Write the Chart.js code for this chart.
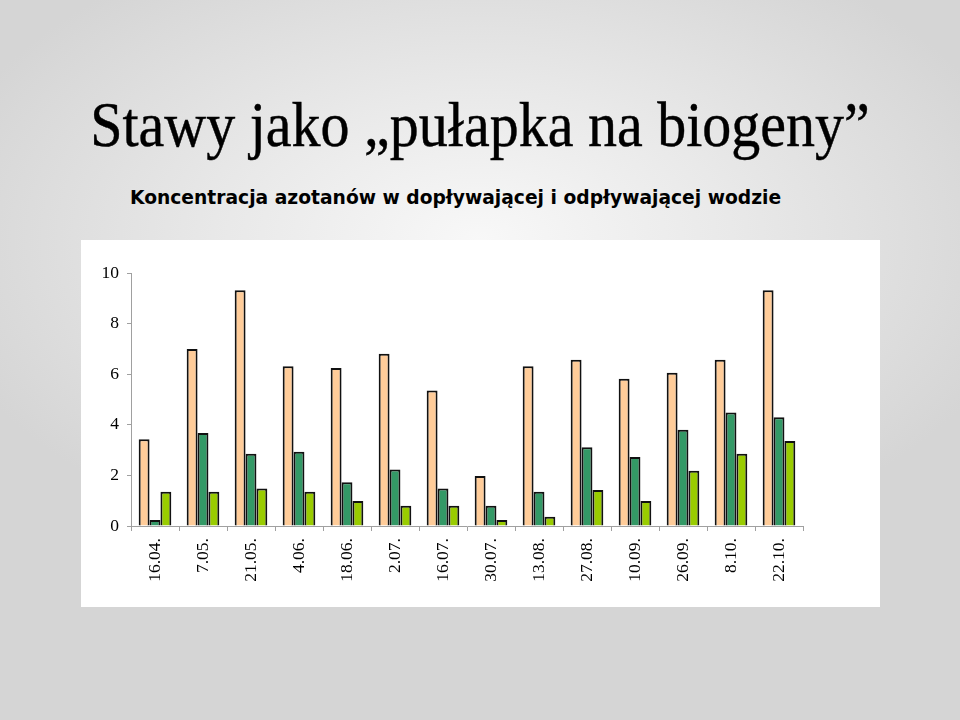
<!doctype html>
<html lang="pl">
<head>
    <meta charset="utf-8">
    <title>Stawy jako pułapka na biogeny</title>
    <script src="https://cdn.jsdelivr.net/npm/chart.js@4.4.1/dist/chart.umd.min.js"></script>
    <style>
        html, body { margin: 0; padding: 0; }
        body {
            width: 960px; height: 720px; position: relative; overflow: hidden;
            background: radial-gradient(ellipse 560px 330px at 480px 240px, #f8f8f8 0%, #e9e9e9 45%, #d5d5d5 100%);
        }
        #title {
            position: absolute; left: 0; width: 960px; top: 90px; margin: 0;
            text-align: center; font-family: "Liberation Serif", "Times New Roman", serif;
            font-weight: normal; font-size: 58px; color: #000; line-height: 70px;
            transform: scaleY(1.1); -webkit-text-stroke: 0.4px #000;
        }
        #subtitle {
            position: absolute; left: 130px; top: 187px; margin: 0;
            font-family: "DejaVu Sans", Verdana, sans-serif; font-weight: bold;
            font-size: 18.7px; color: #000; white-space: nowrap;
        }
        #chartContainer {
            position: absolute; left: 81px; top: 240px; width: 799px; height: 367px;
            background: #fff;
        }
    </style>
</head>
<body>
    <h1 id="title">Stawy jako „pułapka na biogeny”</h1>
    <div id="subtitle">Koncentracja azotanów w dopływającej i odpływającej wodzie</div>
    <div id="chartContainer"><canvas id="myChart"></canvas></div>
    <script>
        // daty poboru prób
        const labels = ["16.04.", "7.05.", "21.05.", "4.06.", "18.06.", "2.07.", "16.07.",
                        "30.07.", "13.08.", "27.08.", "10.09.", "26.09.", "8.10.", "22.10."];
        // wartości
        const doplyw = [3.43, 7.0, 9.32, 6.31, 6.25, 6.81, 5.36, 1.98, 6.31, 6.57, 5.82, 6.06, 6.57, 9.32];
        const staw   = [0.24, 3.68, 2.86, 2.93, 1.73, 2.23, 1.48, 0.80, 1.35, 3.11, 2.73, 3.80, 4.49, 4.30];
        const odplyw = [1.35, 1.35, 1.48, 1.35, 0.99, 0.80, 0.80, 0.24, 0.37, 1.42, 0.99, 2.18, 2.86, 3.36];
        const yTicks = [0, 2, 4, 6, 8, 10];

        const tickFont = { family: "'Liberation Serif', 'Times New Roman', serif", size: 17.5 };

        new Chart(document.getElementById("myChart"), {
            type: 'bar',
            data: {
                labels: labels,
                datasets: [
                    { label: "dopływ", data: doplyw, backgroundColor: "#ffcc99" },
                    { label: "staw", data: staw, backgroundColor: "#339966" },
                    { label: "odpływ", data: odplyw, backgroundColor: "#99cc00" }
                ].map(d => Object.assign(d, {
                    borderColor: "#111", borderWidth: 2,
                    categoryPercentage: 0.68, barPercentage: 1.0
                }))
            },
            options: {
                responsive: true,
                maintainAspectRatio: false,
                animation: false,
                layout: { padding: { top: 33, right: 77, left: 0, bottom: 0 } },
                plugins: { legend: { display: false }, tooltip: { enabled: false } },
                scales: {
                    x: {
                        grid: { display: true, drawOnChartArea: false, tickLength: 5, color: "#a0a0a0", offset: true },
                        border: { color: "#a0a0a0" },
                        ticks: { color: "#000", font: tickFont, minRotation: 90, maxRotation: 90, padding: 7 },
                        afterFit: s => { s.height = 81; }
                    },
                    y: {
                        min: 0, max: 10,
                        afterBuildTicks: s => { s.ticks = yTicks.map(v => ({ value: v })); },
                        grid: { display: true, drawOnChartArea: false, tickLength: 4, color: "#a0a0a0" },
                        border: { color: "#a0a0a0" },
                        ticks: { color: "#000", font: tickFont, padding: 8 },
                        afterFit: s => { s.width = 50; }
                    }
                }
            }
        });
    </script>
</body>
</html>
